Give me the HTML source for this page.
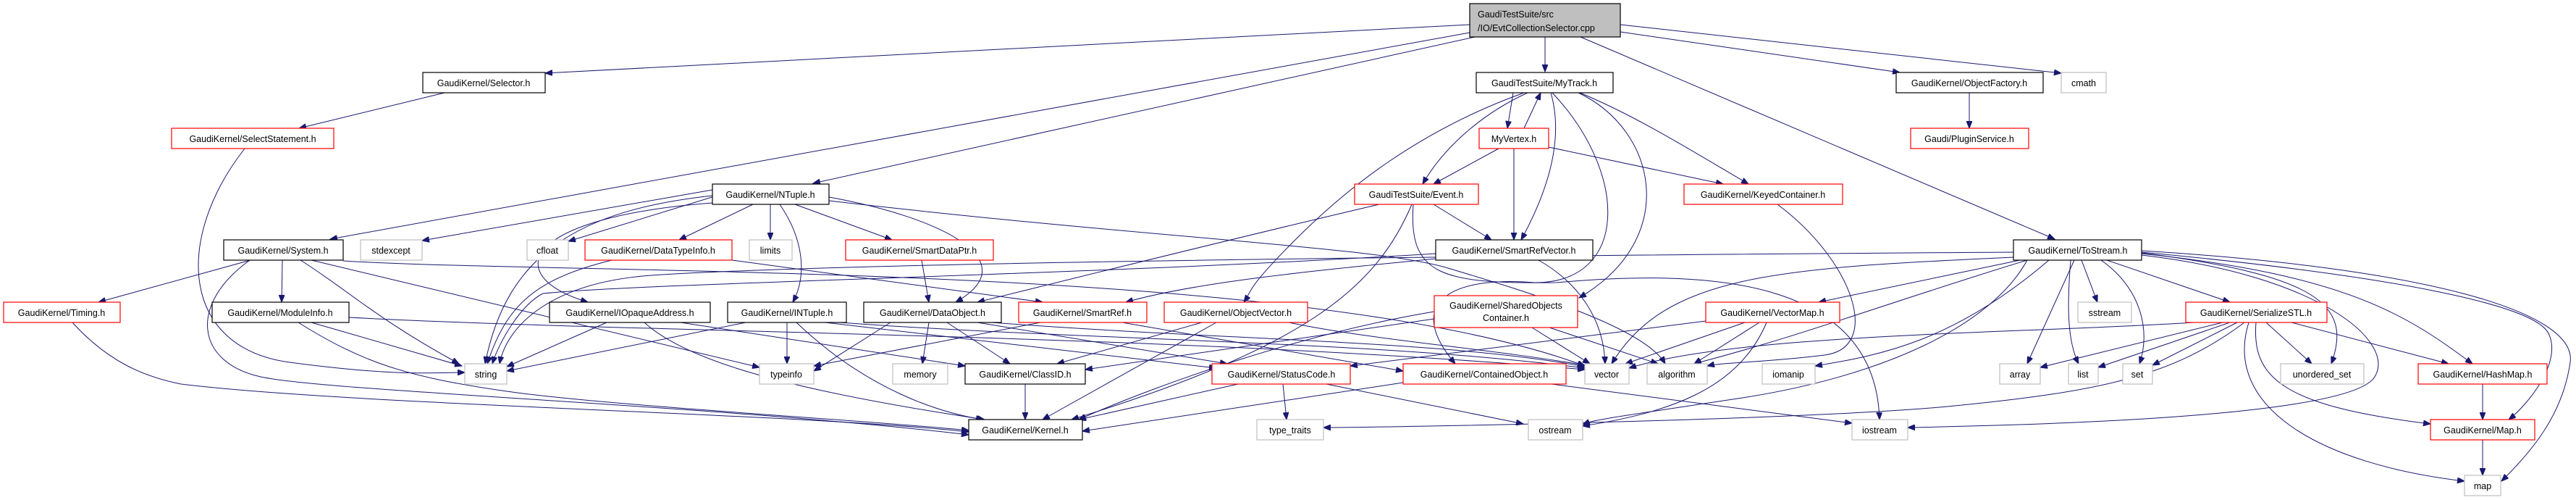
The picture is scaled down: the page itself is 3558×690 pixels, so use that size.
<!DOCTYPE html>
<html><head><meta charset="utf-8"><style>
html,body{margin:0;padding:0;background:#fff;}
svg{display:block;}
text{font-family:"Liberation Sans",sans-serif;font-size:12.5px;fill:#000;}
.e{fill:none;stroke:#191970;stroke-width:1;marker-end:url(#a);}
.b{fill:#fff;stroke:#000;stroke-width:1.2;}
.r{fill:#fff;stroke:#ff0000;stroke-width:1.2;}
.g{fill:#fff;stroke:#bfbfbf;stroke-width:1.2;}
</style></head><body>
<svg width="3558" height="690" viewBox="0 0 3558 690" xmlns="http://www.w3.org/2000/svg">
<defs><marker id="a" markerUnits="userSpaceOnUse" markerWidth="11" markerHeight="8" refX="10" refY="4" orient="auto"><path d="M0,0 L10,4 L0,8 z" fill="#191970" stroke="#191970"/></marker></defs>
<g>
<path class="e" d="M2030 34 L753 101"/>
<path class="e" d="M2030 45 L456 330"/>
<path class="e" d="M2037 51 L1123 253"/>
<path class="e" d="M2134 51 L2134 99"/>
<path class="e" d="M2238 44 L2624 100"/>
<path class="e" d="M2238 34 L2847 101"/>
<path class="e" d="M2183 51 L2838 330"/>
<path class="e" d="M614 128 L413 177"/>
<path class="e" d="M338 205 C240 330,250 480,400 500 S600 514 642 514"/>
<path class="e" d="M346 359 L136 417"/>
<path class="e" d="M390 359 L389 417"/>
<path class="e" d="M415 359 C480 400,520 440,634 502"/>
<path class="e" d="M345 359 C260 420,270 500,360 520 C450 540,1000 560,1338 600"/>
<path class="e" d="M430 359 L1049 507"/>
<path class="e" d="M474 360 C800 380,1800 360,2189 505"/>
<path class="e" d="M100 445 C150 500,200 520,250 530 C500 560,1100 570,1338 596"/>
<path class="e" d="M430 445 L638 505"/>
<path class="e" d="M412 445 C500 500,560 520,700 540 S1200 580 1338 594"/>
<path class="e" d="M482 438 C900 460,1600 460,2189 510"/>
<path class="e" d="M984 262 L583 332"/>
<path class="e" d="M990 270 L785 333"/>
<path class="e" d="M1040 282 L938 331"/>
<path class="e" d="M1064 282 L1064 331"/>
<path class="e" d="M1098 282 L1232 331"/>
<path class="e" d="M1077 282 C1110 330,1115 380,1095 417"/>
<path class="e" d="M1145 272 C1300 300,1420 360,1320 417"/>
<path class="e" d="M984 270 C800 290,700 350,670 502"/>
<path class="e" d="M984 280 C720 300,690 380,812 417"/>
<path class="e" d="M1145 277 C1600 330,1900 340,2000 370 S2270 450 2300 502"/>
<path class="e" d="M1983 350 C1500 380,900 390,750 405 C720 420,690 470,680 502"/>
<path class="e" d="M845 359 C740 385,700 420,673 502"/>
<path class="e" d="M1011 359 L1440 417"/>
<path class="e" d="M838 445 L700 506"/>
<path class="e" d="M890 445 C950 500,1100 540,1360 579"/>
<path class="e" d="M940 445 L1333 505"/>
<path class="e" d="M1087 445 L1087 502"/>
<path class="e" d="M1100 445 C1200 540,1300 570,1358 579"/>
<path class="e" d="M1030 445 L700 512"/>
<path class="e" d="M1140 445 L1680 508"/>
<path class="e" d="M1160 445 C1500 470,1900 470,2189 508"/>
<path class="e" d="M1230 445 L1124 512"/>
<path class="e" d="M1283 445 L1274 502"/>
<path class="e" d="M1308 445 L1395 502"/>
<path class="e" d="M1350 445 L1695 502"/>
<path class="e" d="M1370 445 C1700 470,2000 470,2189 506"/>
<path class="e" d="M1273 359 L1283 417"/>
<path class="e" d="M1437 445 L1124 505"/>
<path class="e" d="M1550 445 L1938 512"/>
<path class="e" d="M1660 445 L1460 502"/>
<path class="e" d="M1680 445 L1440 579"/>
<path class="e" d="M1780 445 C1900 470,2050 480,2189 504"/>
<path class="e" d="M1416 530 L1416 579"/>
<path class="e" d="M1710 530 L1490 579"/>
<path class="e" d="M1772 530 L1777 579"/>
<path class="e" d="M1832 530 L2104 585"/>
<path class="e" d="M2090 128 L2082 177"/>
<path class="e" d="M2105 177 L2128 128"/>
<path class="e" d="M2110 128 C2040 160,1990 210,1965 254"/>
<path class="e" d="M2142 128 C2160 190,2140 260,2101 331"/>
<path class="e" d="M2182 128 C2260 160,2340 210,2415 254"/>
<path class="e" d="M2180 128 C2290 180,2320 330,2181 411"/>
<path class="e" d="M2105 128 C1960 180,1860 260,1790 330 S1730 400 1718 417"/>
<path class="e" d="M2144 128 C2250 240,2250 390,2120 390 C2000 380,1940 420,2010 502"/>
<path class="e" d="M2070 205 L1980 254"/>
<path class="e" d="M2091 205 L2091 331"/>
<path class="e" d="M2139 203 L2380 254"/>
<path class="e" d="M1905 282 C1700 330,1500 380,1350 417"/>
<path class="e" d="M1980 282 L2060 331"/>
<path class="e" d="M1950 282 C1900 400,1800 480,1480 579"/>
<path class="e" d="M1952 282 C1945 380,1990 392,2150 390 C2350 372,2590 380,2596 579"/>
<path class="e" d="M1983 357 C1800 375,1650 390,1555 417"/>
<path class="e" d="M2125 359 C2180 390,2215 440,2217 502"/>
<path class="e" d="M2455 282 C2560 360,2600 480,2520 490 S2380 500 2358 505"/>
<path class="e" d="M1981 430 C1800 460,1600 530,1490 579"/>
<path class="e" d="M1981 440 L1499 510"/>
<path class="e" d="M2116 452 L2196 502"/>
<path class="e" d="M2140 452 L2290 502"/>
<path class="e" d="M2356 443 L1865 505"/>
<path class="e" d="M2410 445 L2245 502"/>
<path class="e" d="M2430 445 L2340 502"/>
<path class="e" d="M2440 445 C2400 540,2300 570,2186 588"/>
<path class="e" d="M1938 528 L1495 595"/>
<path class="e" d="M2143 530 L2558 584"/>
<path class="e" d="M2720 128 L2720 177"/>
<path class="e" d="M2790 359 L2512 417"/>
<path class="e" d="M2781 348 C2200 352,1200 360,900 380 C760 390,700 450,690 502"/>
<path class="e" d="M2781 355 C2450 370,2300 380,2226 502"/>
<path class="e" d="M2800 359 C2600 420,2500 460,2340 502"/>
<path class="e" d="M2830 359 C2700 470,2600 490,2507 505"/>
<path class="e" d="M2865 359 L2800 502"/>
<path class="e" d="M2860 359 C2855 420,2855 470,2871 502"/>
<path class="e" d="M2875 359 L2897 417"/>
<path class="e" d="M2902 359 C2960 400,2970 460,2955 502"/>
<path class="e" d="M2910 359 L3080 417"/>
<path class="e" d="M2958 349 C3200 380,3250 420,3220 502"/>
<path class="e" d="M2958 350 C3250 380,3330 440,3415 502"/>
<path class="e" d="M2958 348 C3300 380,3500 420,3520 460 S3490 560 3465 579"/>
<path class="e" d="M2958 346 C3350 370,3560 430,3550 500 S3500 620 3455 664"/>
<path class="e" d="M2958 352 C3200 380,3310 470,3280 520 S2900 585 2635 590"/>
<path class="e" d="M3100 445 C3000 520,2900 540,2700 560 S1900 590 1828 590"/>
<path class="e" d="M2800 359 C2750 450,2600 520,2400 550 S2200 580 2186 586"/>
<path class="e" d="M3070 445 L2818 507"/>
<path class="e" d="M3080 445 L2898 507"/>
<path class="e" d="M3090 445 L2973 504"/>
<path class="e" d="M3130 445 L3193 502"/>
<path class="e" d="M3165 445 L3382 502"/>
<path class="e" d="M3116 445 C3110 520,3150 560,3357 585"/>
<path class="e" d="M3106 445 C3070 560,3200 640,3404 664"/>
<path class="e" d="M3030 445 C2800 460,2400 460,2250 508"/>
<path class="e" d="M3429 530 L3429 579"/>
<path class="e" d="M3429 607 L3429 656"/>
</g>
<g>
<rect x="2030" y="5" width="208" height="46" fill="#bfbfbf" stroke="#000" stroke-width="1.2"/>
<text x="2041" y="24">GaudiTestSuite/src</text>
<text x="2041" y="43">/IO/EvtCollectionSelector.cpp</text>
</g>
<g text-anchor="middle">
<rect class="b" x="584" y="100" width="169" height="28"/><text x="668" y="119">GaudiKernel/Selector.h</text>
<rect class="r" x="237" y="177" width="224" height="28"/><text x="349" y="196">GaudiKernel/SelectStatement.h</text>
<rect class="b" x="309" y="331" width="165" height="28"/><text x="391" y="350">GaudiKernel/System.h</text>
<rect class="g" x="498" y="331" width="85" height="28"/><text x="540" y="350">stdexcept</text>
<rect class="g" x="728" y="331" width="57" height="28"/><text x="756" y="350">cfloat</text>
<rect class="r" x="808" y="331" width="203" height="28"/><text x="909" y="350">GaudiKernel/DataTypeInfo.h</text>
<rect class="r" x="5" y="417" width="161" height="28"/><text x="85" y="436">GaudiKernel/Timing.h</text>
<rect class="b" x="293" y="417" width="189" height="28"/><text x="387" y="436">GaudiKernel/ModuleInfo.h</text>
<rect class="b" x="759" y="417" width="222" height="28"/><text x="870" y="436">GaudiKernel/IOpaqueAddress.h</text>
<rect class="g" x="642" y="502" width="58" height="28"/><text x="671" y="521">string</text>
<rect class="b" x="984" y="254" width="161" height="28"/><text x="1064" y="273">GaudiKernel/NTuple.h</text>
<rect class="g" x="1035" y="331" width="59" height="28"/><text x="1064" y="350">limits</text>
<rect class="r" x="1168" y="331" width="204" height="28"/><text x="1270" y="350">GaudiKernel/SmartDataPtr.h</text>
<rect class="b" x="1005" y="417" width="164" height="28"/><text x="1087" y="436">GaudiKernel/INTuple.h</text>
<rect class="b" x="1193" y="417" width="190" height="28"/><text x="1288" y="436">GaudiKernel/DataObject.h</text>
<rect class="r" x="1407" y="417" width="177" height="28"/><text x="1495" y="436">GaudiKernel/SmartRef.h</text>
<rect class="r" x="1608" y="417" width="198" height="28"/><text x="1707" y="436">GaudiKernel/ObjectVector.h</text>
<rect class="g" x="1049" y="502" width="75" height="28"/><text x="1086" y="521">typeinfo</text>
<rect class="g" x="1233" y="502" width="76" height="28"/><text x="1271" y="521">memory</text>
<rect class="b" x="1333" y="502" width="166" height="28"/><text x="1416" y="521">GaudiKernel/ClassID.h</text>
<rect class="r" x="1674" y="502" width="191" height="28"/><text x="1770" y="521">GaudiKernel/StatusCode.h</text>
<rect class="b" x="1338" y="579" width="157" height="28"/><text x="1416" y="598">GaudiKernel/Kernel.h</text>
<rect class="g" x="1736" y="579" width="92" height="28"/><text x="1782" y="598">type_traits</text>
<rect class="b" x="2039" y="100" width="189" height="28"/><text x="2133" y="119">GaudiTestSuite/MyTrack.h</text>
<rect class="r" x="2043" y="177" width="96" height="28"/><text x="2091" y="196">MyVertex.h</text>
<rect class="r" x="1871" y="254" width="171" height="28"/><text x="1956" y="273">GaudiTestSuite/Event.h</text>
<rect class="r" x="2326" y="254" width="219" height="28"/><text x="2435" y="273">GaudiKernel/KeyedContainer.h</text>
<rect class="b" x="1983" y="331" width="217" height="28"/><text x="2091" y="350">GaudiKernel/SmartRefVector.h</text>
<rect class="r" x="1981" y="408" width="198" height="44"/><text x="2080" y="426">GaudiKernel/SharedObjects</text><text x="2080" y="443">Container.h</text>
<rect class="r" x="2356" y="417" width="185" height="28"/><text x="2448" y="436">GaudiKernel/VectorMap.h</text>
<rect class="r" x="1938" y="502" width="225" height="28"/><text x="2050" y="521">GaudiKernel/ContainedObject.h</text>
<rect class="g" x="2189" y="502" width="61" height="28"/><text x="2219" y="521">vector</text>
<rect class="g" x="2275" y="502" width="83" height="28"/><text x="2316" y="521">algorithm</text>
<rect class="g" x="2434" y="502" width="73" height="28"/><text x="2470" y="521">iomanip</text>
<rect class="g" x="2111" y="579" width="75" height="28"/><text x="2148" y="598">ostream</text>
<rect class="g" x="2558" y="579" width="77" height="28"/><text x="2596" y="598">iostream</text>
<rect class="b" x="2619" y="100" width="203" height="28"/><text x="2720" y="119">GaudiKernel/ObjectFactory.h</text>
<rect class="r" x="2639" y="177" width="163" height="28"/><text x="2720" y="196">Gaudi/PluginService.h</text>
<rect class="g" x="2847" y="100" width="62" height="28"/><text x="2878" y="119">cmath</text>
<rect class="b" x="2781" y="331" width="177" height="28"/><text x="2870" y="350">GaudiKernel/ToStream.h</text>
<rect class="g" x="2870" y="417" width="74" height="28"/><text x="2907" y="436">sstream</text>
<rect class="r" x="3019" y="417" width="195" height="28"/><text x="3116" y="436">GaudiKernel/SerializeSTL.h</text>
<rect class="g" x="2762" y="502" width="56" height="28"/><text x="2790" y="521">array</text>
<rect class="g" x="2857" y="502" width="41" height="28"/><text x="2877" y="521">list</text>
<rect class="g" x="2932" y="502" width="41" height="28"/><text x="2952" y="521">set</text>
<rect class="g" x="3150" y="502" width="115" height="28"/><text x="3207" y="521">unordered_set</text>
<rect class="r" x="3340" y="502" width="178" height="28"/><text x="3429" y="521">GaudiKernel/HashMap.h</text>
<rect class="r" x="3357" y="579" width="144" height="28"/><text x="3429" y="598">GaudiKernel/Map.h</text>
<rect class="g" x="3404" y="656" width="50" height="28"/><text x="3429" y="675">map</text>
</g>
</svg>
</body></html>
